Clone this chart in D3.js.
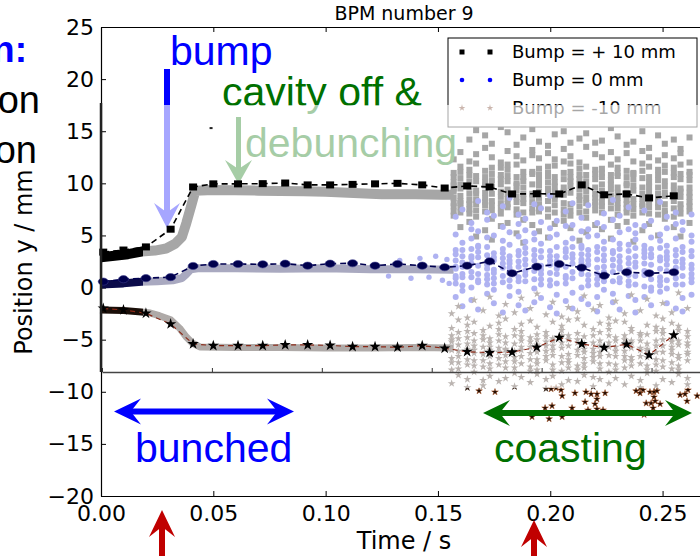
<!DOCTYPE html>
<html>
<head>
<meta charset="utf-8">
<script src="https://cdn.jsdelivr.net/npm/d3@7"></script>
<style>
  body { margin: 0; background: #fff; }
  svg { display: block; }
</style>
</head>
<body>
<svg id="chart" width="700" height="556"></svg>
<script>
// ---------- data ----------
const xTicks = [0, 0.05, 0.10, 0.15, 0.20, 0.25];
const yTicks = [-20, -15, -10, -5, 0, 5, 10, 15, 20, 25];
const seriesLabels = ["Bump = + 10 mm", "Bump = 0 mm", "Bump = -10 mm"];

// bin-averaged orbit (markers joined by dashed lines)
const avgTimes = [0.001, 0.010, 0.020, 0.031, 0.041, 0.050, 0.061, 0.072, 0.082, 0.092, 0.102, 0.112, 0.122,
                  0.132, 0.143, 0.153, 0.163, 0.173, 0.183, 0.194, 0.204, 0.214, 0.224, 0.234, 0.244, 0.255];
const avgPlus10 = [3.4, 3.6, 3.9, 5.6, 9.65, 9.95, 9.95, 9.97, 10.03, 9.85, 9.85, 9.9, 9.95,
                   10.0, 9.85, 9.55, 9.75, 9.65, 8.98, 9.0, 8.98, 9.85, 8.9, 8.98, 8.6, 8.8];
const avgZero = [0.57, 0.80, 0.90, 1.00, 2.07, 2.26, 2.26, 2.23, 2.29, 2.10, 2.29, 2.33, 2.10,
                 2.26, 2.10, 1.95, 2.10, 2.52, 1.37, 2.00, 2.26, 1.91, 1.14, 1.47, 1.37, 1.47];
const avgMinus10 = [-2.0, -2.15, -2.47, -3.5, -5.41, -5.57, -5.57, -5.57, -5.5, -5.5, -5.55, -5.67, -5.67,
                    -5.73, -5.57, -5.83, -6.15, -6.25, -6.2, -5.73, -4.8, -5.41, -5.76, -5.44, -6.47, -4.55];

// turn-by-turn position while the beam is bunched: [time, position]
const bandPlus10 = [[0, 2.9], [0.006, 3.05], [0.012, 3.2], [0.018, 3.45], [0.024, 3.55], [0.029, 3.75],
                    [0.033, 4.2], [0.036, 4.85], [0.038, 6.2], [0.0405, 8.1], [0.042, 9.3], [0.05, 9.35],
                    [0.07, 9.3], [0.09, 9.25], [0.10, 9.2], [0.115, 9.05], [0.125, 8.95], [0.14, 8.95],
                    [0.152, 8.9], [0.157, 8.9]];
const bandZero = [[0, 0.3], [0.01, 0.4], [0.018, 0.55], [0.025, 0.6], [0.032, 0.7], [0.036, 0.9],
                  [0.038, 1.3], [0.040, 1.75], [0.043, 1.85], [0.06, 1.85], [0.08, 1.8], [0.10, 1.85],
                  [0.12, 1.75], [0.14, 1.75], [0.157, 1.7]];
const bandMinus10 = [[0, -2.15], [0.01, -2.2], [0.018, -2.35], [0.022, -2.45], [0.026, -2.7], [0.031, -3.1],
                     [0.035, -3.9], [0.038, -4.75], [0.0405, -5.3], [0.044, -5.7], [0.06, -5.75], [0.08, -5.75],
                     [0.10, -5.8], [0.12, -5.8], [0.14, -5.75], [0.157, -5.8]];
const zeroLateScatter = [[0.128, 1.1], [0.133, 2.6], [0.138, 0.9], [0.142, 2.8], [0.146, 1.0], [0.149, 3.0],
                         [0.152, 0.7], [0.154, 2.7], [0.155, 0.4]];

// coasting beam: readings per acquisition time
const noiseTimes = [0.157, 0.160, 0.164, 0.167, 0.171, 0.174, 0.178, 0.181, 0.185, 0.188, 0.192, 0.195,
                    0.199, 0.202, 0.206, 0.209, 0.213, 0.216, 0.220, 0.223, 0.227, 0.230, 0.234, 0.237,
                    0.241, 0.244, 0.248, 0.251, 0.255, 0.258, 0.262];
const noisePlus10 = [
  [9.2, 8.6, 10.1, 7.8, 11.0, 6.9, 9.8, 12.3, 8.1, 10.6, 9.5, 7.3],
  [8.8, 10.5, 13.0, 7.2, 9.5, 5.8, 11.6, 8.1, 9.9, 8.3, 11.1, 7.7],
  [9.6, 14.2, 7.5, 10.8, 6.3, 12.1, 8.4, 9.0, 8.0, 11.3, 10.2, 7.1],
  [10.2, 8.0, 11.9, 15.1, 6.8, 9.3, 4.9, 12.8, 9.0, 10.7, 7.4, 8.4],
  [9.1, 13.4, 7.9, 10.6, 5.5, 11.2, 8.6, 14.6, 9.8, 7.3, 10.1, 8.2],
  [8.3, 10.9, 6.6, 12.5, 9.7, 4.6, 13.8, 7.4, 9.0, 11.5, 7.9, 10.3],
  [9.9, 7.1, 12.0, 15.4, 8.7, 10.4, 5.9, 11.5, 9.2, 7.6, 10.8, 8.1],
  [8.5, 11.3, 6.2, 13.1, 9.4, 7.7, 14.9, 10.2, 10.7, 8.0, 9.0, 11.8],
  [9.3, 12.6, 7.0, 10.0, 5.2, 11.8, 8.2, 13.7, 8.7, 10.6, 7.5, 9.8],
  [10.6, 8.1, 14.4, 6.5, 9.0, 12.2, 4.3, 11.1, 9.6, 7.2, 10.2, 8.5],
  [9.0, 13.2, 7.6, 10.9, 6.0, 12.7, 8.8, 15.2, 9.9, 8.2, 11.1, 7.2],
  [8.6, 11.4, 5.4, 9.8, 14.0, 7.3, 12.4, 10.3, 9.2, 7.8, 10.8, 8.0],
  [9.5, 6.8, 12.9, 8.3, 10.7, 4.8, 13.6, 11.0, 10.1, 7.5, 9.0, 11.6],
  [10.1, 7.9, 14.7, 9.2, 6.1, 11.7, 8.5, 12.3, 8.8, 10.6, 7.2, 9.7],
  [8.9, 12.1, 6.4, 10.4, 15.0, 7.5, 9.6, 13.3, 8.1, 11.0, 9.2, 7.0],
  [9.7, 5.7, 11.9, 8.0, 13.9, 10.6, 6.9, 12.6, 9.1, 7.4, 10.2, 11.1],
  [8.4, 10.8, 14.3, 7.2, 9.4, 4.5, 12.0, 11.4, 9.9, 7.8, 10.4, 8.8],
  [9.2, 13.5, 6.7, 10.2, 8.1, 11.6, 5.3, 14.8, 8.6, 9.7, 7.3, 10.8],
  [10.4, 7.4, 12.8, 9.0, 6.0, 11.3, 13.9, 8.6, 9.6, 7.9, 10.9, 8.2],
  [8.7, 11.0, 5.6, 14.1, 9.9, 7.8, 12.5, 10.6, 9.3, 7.2, 11.4, 8.2],
  [9.4, 6.5, 13.0, 8.2, 11.8, 4.7, 10.3, 15.3, 8.8, 10.8, 7.6, 9.9],
  [8.1, 12.3, 7.0, 10.7, 14.5, 9.1, 5.9, 11.5, 9.6, 7.6, 11.0, 8.6],
  [9.8, 7.6, 11.2, 13.7, 6.3, 10.0, 8.4, 12.9, 9.1, 10.6, 7.2, 8.0],
  [8.5, 10.9, 14.0, 6.9, 9.3, 12.1, 4.4, 11.0, 8.0, 9.8, 7.5, 10.4],
  [9.0, 13.1, 7.2, 10.5, 5.5, 11.9, 8.0, 15.0, 9.6, 7.8, 11.2, 8.5],
  [8.2, 11.6, 6.1, 9.7, 13.4, 7.7, 12.5, 10.1, 9.2, 7.1, 10.6, 8.7],
  [9.6, 7.0, 12.2, 14.6, 8.6, 10.8, 5.0, 11.3, 9.0, 7.7, 10.3, 8.1],
  [8.8, 12.7, 6.6, 10.2, 9.1, 13.8, 7.4, 11.7, 8.0, 9.7, 11.1, 7.1],
  [9.3, 5.8, 11.0, 8.3, 14.2, 10.6, 6.8, 12.4, 9.8, 7.6, 11.5, 8.9],
  [8.0, 10.4, 13.3, 7.1, 9.5, 11.8, 4.9, 12.9, 8.7, 10.9, 7.6, 9.2],
  [9.1, 7.8, 12.0, 10.3, 14.4, 6.2, 11.1, 8.7, 9.6, 8.2, 10.8, 7.3]
];
const noiseZero = [
  [1.8, 3.2, 0.4, 5.1, -0.9, 2.6, 6.8, 1.1, 2.0, 0.9, 3.6],
  [2.4, -0.3, 4.3, 1.0, 7.5, 3.6, -1.8, 2.0, 1.3, 3.0, 0.2],
  [1.5, 5.6, 0.0, 3.0, -1.2, 6.2, 2.8, 4.7, 2.3, 1.0, 3.7],
  [2.9, -2.1, 4.0, 1.3, 8.3, 0.7, 5.4, 3.4, 0.5, 2.1, 3.9],
  [1.2, 3.9, -0.6, 6.5, 2.2, 4.8, 0.3, 7.2, 1.8, 3.1, 0.8],
  [2.6, 0.9, 5.0, -1.5, 3.3, 1.7, 6.9, -0.2, 2.9, 0.4, 1.4],
  [1.9, 4.5, -2.4, 2.8, 7.8, 0.5, 3.7, 5.8, 1.1, 2.3, 3.3],
  [2.3, -0.8, 5.3, 1.4, 3.0, 8.6, 0.1, 4.1, 0.7, 2.6, 1.9],
  [1.0, 3.5, 6.1, -1.7, 2.5, 4.9, -0.4, 7.0, 2.0, 0.6, 3.1],
  [2.7, 0.6, 4.4, -2.2, 6.6, 1.6, 3.8, 5.5, 1.2, 3.3, 2.2],
  [1.6, 5.2, -0.1, 3.1, 8.0, 2.0, -1.4, 4.6, 0.8, 2.6, 3.6],
  [2.1, -1.0, 4.2, 0.8, 6.3, 3.5, 7.6, 1.3, 1.7, 2.9, 0.3],
  [1.4, 3.0, 5.7, -1.9, 2.6, 0.2, 4.8, 8.8, 2.2, 0.7, 3.5],
  [2.5, 0.4, 6.4, -0.7, 3.9, 1.8, 5.1, -2.5, 1.3, 3.0, 2.1],
  [1.1, 4.3, -1.3, 2.9, 7.3, 0.9, 3.4, 5.9, 2.0, 0.4, 3.7],
  [2.8, -0.5, 4.7, 1.5, 6.0, 3.2, -2.0, 8.1, 0.9, 2.3, 3.9],
  [1.7, 3.8, 0.0, 5.4, -1.1, 2.4, 6.7, 4.0, 1.3, 3.2, 2.7],
  [2.2, 0.7, 4.9, -1.6, 3.6, 7.9, 1.2, 5.6, 2.6, 0.2, 3.1],
  [1.3, 5.0, -0.9, 2.7, 6.2, 0.3, 3.9, -2.3, 1.9, 3.4, 0.8],
  [2.6, -0.2, 4.4, 1.0, 7.1, 3.1, 5.8, 0.6, 2.0, 1.5, 3.7],
  [1.5, 3.3, 6.5, -1.4, 2.1, 4.6, -0.6, 8.4, 0.6, 2.7, 3.5],
  [2.0, 0.5, 5.3, -2.1, 3.7, 1.8, 6.9, 4.2, 2.5, 0.9, 3.0],
  [1.2, 4.1, -0.8, 2.8, 7.7, 0.2, 3.5, 5.6, 1.7, 2.3, 0.6],
  [2.4, -1.2, 4.6, 1.1, 6.0, 3.0, -2.4, 5.2, 2.0, 3.8, 0.3],
  [1.6, 3.6, 0.1, 5.9, -0.9, 2.3, 7.4, 4.0, 1.2, 2.9, 3.3],
  [2.9, 0.8, 4.8, -1.7, 3.2, 6.4, 1.4, -0.3, 2.2, 0.0, 3.7],
  [1.0, 5.1, -0.4, 2.6, 8.2, 3.8, 0.6, 4.5, 1.8, 2.9, 0.2],
  [2.2, -1.5, 4.0, 1.6, 6.8, 3.4, -0.1, 5.7, 0.7, 2.7, 3.0],
  [1.4, 3.1, 6.1, -2.0, 2.5, 0.9, 4.7, 7.2, 1.9, 0.3, 3.6],
  [2.7, 0.3, 5.5, -1.0, 3.9, 1.9, 6.3, -2.3, 1.1, 2.3, 3.4],
  [1.8, 4.4, -0.7, 3.0, 7.0, 0.5, 5.0, 2.2, 1.3, 3.5, 0.9]
];
const noiseMinus10 = [
  [-5.2, -3.9, -6.8, -2.5, -7.9, -4.6, -9.2, -6.0, -5.0, -7.2],
  [-6.1, -4.3, -8.4, -1.8, -5.5, -7.2, -3.1, -4.9, -6.6, -7.8],
  [-4.8, -6.9, -2.9, -8.8, -5.9, -9.6, -3.6, -5.4, -7.4, -4.2],
  [-5.6, -7.5, -3.3, -6.3, -1.2, -8.1, -4.4, -5.1, -7.0, -6.0],
  [-6.4, -4.1, -8.9, -2.2, -5.0, -7.0, -9.4, -5.7, -7.6, -4.6],
  [-5.3, -7.8, -3.7, -6.6, -0.9, -4.9, -8.5, -6.0, -5.7, -7.3],
  [-4.5, -6.2, -9.0, -2.7, -5.8, -7.4, -3.4, -5.1, -6.8, -4.0],
  [-5.9, -3.0, -7.7, -4.7, -8.7, -1.6, -6.5, -5.3, -7.1, -6.0],
  [-6.7, -4.0, -8.2, -2.4, -5.4, -9.5, -7.1, -6.1, -4.6, -7.7],
  [-5.1, -7.3, -3.5, -6.0, -1.0, -8.6, -4.2, -5.7, -6.6, -4.7],
  [-6.3, -4.8, -9.1, -2.0, -5.7, -7.6, -3.2, -5.2, -6.9, -8.0],
  [-5.5, -7.9, -3.8, -6.9, -0.6, -4.5, -8.3, -6.2, -5.0, -7.3],
  [-4.3, -6.1, -8.8, -2.6, -5.2, -7.0, -9.7, -5.6, -6.6, -4.7],
  [-6.0, -3.3, -7.4, -4.9, -8.5, -1.4, -5.6, -6.5, -5.1, -7.9],
  [-5.8, -4.1, -8.0, -2.8, -6.6, -9.3, -3.7, -5.3, -7.2, -4.6],
  [-5.0, -7.2, -3.1, -6.4, -1.9, -8.9, -4.6, -5.6, -6.9, -7.7],
  [-6.5, -4.4, -9.0, -2.3, -5.3, -7.5, -3.0, -6.0, -5.0, -7.9],
  [-5.4, -7.7, -3.6, -6.8, -0.8, -4.7, -8.4, -5.9, -6.2, -7.3],
  [-4.6, -6.3, -8.6, -2.1, -5.9, -7.1, -9.5, -5.3, -6.7, -4.0],
  [-6.2, -3.4, -7.8, -4.3, -8.8, -1.7, -5.1, -6.6, -5.6, -7.3],
  [-5.7, -4.0, -8.1, -2.9, -6.5, -9.2, -3.5, -5.3, -7.3, -4.6],
  [-5.1, -7.4, -3.2, -6.1, -1.3, -8.7, -4.8, -5.7, -6.6, -7.9],
  [-6.6, -4.6, -9.3, -2.5, -5.5, -7.7, -3.3, -6.1, -5.0, -7.0],
  [-5.3, -7.0, -3.9, -6.7, -0.7, -4.2, -8.5, -5.8, -7.5, -5.1],
  [-4.4, -6.0, -8.9, -2.2, -5.8, -7.3, -9.6, -5.1, -6.6, -4.6],
  [-6.1, -3.6, -7.5, -4.5, -8.2, -1.1, -5.4, -6.7, -5.9, -7.9],
  [-5.6, -4.2, -8.0, -2.7, -6.9, -9.4, -3.8, -5.1, -6.2, -7.4],
  [-5.0, -7.6, -3.0, -6.2, -1.5, -8.8, -4.4, -5.6, -7.0, -4.0],
  [-6.4, -4.9, -9.1, -2.4, -5.2, -7.2, -3.4, -6.0, -5.7, -7.8],
  [-5.5, -7.9, -3.7, -6.5, -0.5, -4.1, -8.3, -5.1, -6.8, -7.5],
  [-4.7, -6.4, -8.7, -2.0, -5.6, -7.0, -9.3, -5.3, -6.2, -4.2]
];
// far outliers of the -10 mm bump: [time, position]
const farMinus10 = [[0.1683, -9.92], [0.1754, -10.02], [0.1919, -12.4], [0.1977, -11.56], [0.1995, -12.6],
                    [0.2004, -9.73], [0.2008, -11.36], [0.2026, -9.63], [0.2048, -9.83], [0.2053, -10.4],
                    [0.2053, -12.4], [0.2097, -11.56], [0.2110, -10.13], [0.2155, -10.98], [0.2159, -10.02],
                    [0.2168, -11.75], [0.2182, -10.22], [0.2199, -11.17], [0.2208, -10.22], [0.2208, -10.7],
                    [0.2208, -11.65], [0.2235, -11.75], [0.2244, -10.13], [0.2382, -9.92], [0.2400, -10.13],
                    [0.2413, -9.83], [0.2418, -12.2], [0.2427, -11.1], [0.2444, -10.02], [0.2449, -11.1],
                    [0.2458, -11.56], [0.2462, -10.02], [0.2462, -10.5], [0.2467, -10.9], [0.2475, -9.92],
                    [0.2489, -11.17], [0.2578, -10.3], [0.2600, -10.22], [0.2609, -10.9], [0.2613, -9.83],
                    [0.2654, -10.4]];
const strayPlus10 = [[0.049, 15.3]];

// ---------- scales ----------
const svg = d3.select("#chart");
const x = d3.scaleLinear().domain([0, 0.268]).range([101, 703]);
const y = d3.scaleLinear().domain([-20, 25]).range([496, 27]);
const xInset = d3.scaleLinear().domain([0, 0.2725]).range([102, 701]);

const FONT = "'DejaVu Sans', 'Bitstream Vera Sans', sans-serif";
const ANN = "'Liberation Sans', Arial, Helvetica, sans-serif";
const BLUE = "#0000ff", GREEN = "#007000", RED = "#c00000";

// ---------- axes ----------
function styleAxis(g) {
  g.attr("font-family", FONT).attr("font-size", 22);
  g.selectAll("path.domain").attr("stroke", "#000").attr("stroke-width", 1.2);
  g.selectAll(".tick line").attr("stroke", "#000").attr("stroke-width", 1);
  g.selectAll(".tick text").attr("fill", "#000");
}
svg.append("g").attr("transform", "translate(101,0)")
  .call(d3.axisLeft(y).tickValues(yTicks).tickSizeInner(-5).tickSizeOuter(0).tickPadding(7))
  .call(styleAxis);
svg.append("g").attr("transform", "translate(0,496)")
  .call(d3.axisBottom(x).tickValues(xTicks).tickFormat(d3.format(".2f"))
    .tickSizeInner(-5).tickSizeOuter(0).tickPadding(9))
  .call(styleAxis);
svg.append("g").attr("transform", "translate(0,27)")
  .call(d3.axisTop(x).tickValues(xTicks).tickFormat(() => "").tickSizeInner(-5).tickSizeOuter(0))
  .call(styleAxis);

svg.append("text").attr("x", 404).attr("y", 20).attr("text-anchor", "middle")
  .attr("font-family", FONT).attr("font-size", 19).text("BPM number 9");
svg.append("text").attr("transform", "translate(32,262) rotate(-90)").attr("text-anchor", "middle")
  .attr("font-family", FONT).attr("font-size", 24).text("Position y / mm");
svg.append("text").attr("x", 404).attr("y", 549).attr("text-anchor", "middle")
  .attr("font-family", FONT).attr("font-size", 24).text("Time / s");

// ---------- raw position data ----------
const gRaw = svg.append("g");
const lineGen = d3.line().x(d => x(d[0])).y(d => y(d[1]));
[[bandPlus10, "#000", 10], [bandZero, "#0b0b4a", 8], [bandMinus10, "#1a0e08", 7]].forEach(([b, c, w]) => {
  gRaw.append("path").datum(b).attr("d", lineGen).attr("fill", "none")
    .attr("stroke", c).attr("stroke-width", w).attr("stroke-linejoin", "round").attr("stroke-linecap", "butt");
});
gRaw.selectAll("circle.late").data(zeroLateScatter).join("circle")
  .attr("cx", d => x(d[0])).attr("cy", d => y(d[1])).attr("r", 2.7).attr("fill", "#1a24d8");

function flatten(times, cols) {
  const out = [];
  times.forEach((t, i) => cols[i].forEach(v => out.push([t, v])));
  return out;
}
gRaw.selectAll("rect.np").data(flatten(noiseTimes, noisePlus10)).join("rect")
  .attr("x", d => x(d[0]) - 3).attr("y", d => y(d[1]) - 3).attr("width", 6).attr("height", 6)
  .attr("fill", "#000");
gRaw.selectAll("circle.nz").data(flatten(noiseTimes, noiseZero)).join("circle")
  .attr("cx", d => x(d[0]) + 2).attr("cy", d => y(d[1])).attr("r", 3).attr("fill", "#1a24d8");
const starSmall = d3.symbol().type(d3.symbolStar).size(20);
gRaw.selectAll("path.nm").data(flatten(noiseTimes, noiseMinus10)).join("path")
  .attr("transform", d => `translate(${x(d[0]) - 2},${y(d[1])})`).attr("d", starSmall)
  .attr("fill", "#3c2a20");
gRaw.selectAll("path.far").data(farMinus10).join("path")
  .attr("transform", d => `translate(${x(d[0])},${y(d[1])})`)
  .attr("d", d3.symbol().type(d3.symbolStar).size(14))
  .attr("fill", "#1e0c04").attr("stroke", "#a04818").attr("stroke-width", 0.5);

// ---------- legend ----------
const gLeg = svg.append("g");
gLeg.append("rect").attr("x", 448).attr("y", 38).attr("width", 249).attr("height", 89)
  .attr("fill", "#fff").attr("stroke", "#000").attr("stroke-width", 1);
const legRows = [52, 80, 108];
seriesLabels.forEach((lab, i) => {
  const ry = legRows[i];
  [462, 490].forEach(mx => {
    if (i === 0) gLeg.append("rect").attr("x", mx - 2.5).attr("y", ry - 2.5).attr("width", 5).attr("height", 5).attr("fill", "#000");
    if (i === 1) gLeg.append("circle").attr("cx", mx).attr("cy", ry).attr("r", 2.3).attr("fill", BLUE);
    if (i === 2) gLeg.append("path").attr("transform", `translate(${mx},${ry})`)
      .attr("d", d3.symbol().type(d3.symbolStar).size(14)).attr("fill", "#6a3018");
  });
  gLeg.append("text").attr("x", 512).attr("y", ry).attr("dy", "0.36em")
    .attr("font-family", FONT).attr("font-size", 18).text(lab);
});

// ---------- annotations beneath the highlight veil ----------
const gAnn = svg.append("g");
function vArrowDown(g, cx, y0, tip, headLen, halfW, shaftW, color) {
  const base = tip - headLen, notch = tip - headLen * 0.62;
  g.append("rect").attr("x", cx - shaftW / 2).attr("y", y0).attr("width", shaftW).attr("height", notch - y0 + 1).attr("fill", color);
  g.append("path").attr("d", `M${cx},${tip} L${cx - halfW},${base} L${cx},${notch} L${cx + halfW},${base} Z`).attr("fill", color);
}
function vArrowUp(g, cx, y0, tip, headLen, halfW, shaftW, color) {
  const base = tip + headLen, notch = tip + headLen * 0.62;
  g.append("rect").attr("x", cx - shaftW / 2).attr("y", notch - 1).attr("width", shaftW).attr("height", y0 - notch + 1).attr("fill", color);
  g.append("path").attr("d", `M${cx},${tip} L${cx - halfW},${base} L${cx},${notch} L${cx + halfW},${base} Z`).attr("fill", color);
}
function hDoubleArrow(g, x1, x2, cy, headLen, halfW, shaftW, color) {
  const n1 = x1 + headLen * 0.62, n2 = x2 - headLen * 0.62;
  g.append("rect").attr("x", n1 - 1).attr("y", cy - shaftW / 2).attr("width", n2 - n1 + 2).attr("height", shaftW).attr("fill", color);
  g.append("path").attr("d", `M${x1},${cy} L${x1 + headLen},${cy - halfW} L${n1},${cy} L${x1 + headLen},${cy + halfW} Z`).attr("fill", color);
  g.append("path").attr("d", `M${x2},${cy} L${x2 - headLen},${cy - halfW} L${n2},${cy} L${x2 - headLen},${cy + halfW} Z`).attr("fill", color);
}
vArrowDown(gAnn, 167, 69, 228, 25, 13, 6, BLUE);
vArrowDown(gAnn, 238.5, 117, 184, 24, 13.5, 5, GREEN);
gAnn.append("text").attr("x", 170).attr("y", 65).attr("font-family", ANN).attr("font-size", 41)
  .attr("fill", BLUE).text("bump");
gAnn.append("text").attr("x", 222).attr("y", 106).attr("font-family", ANN).attr("font-size", 41)
  .attr("fill", GREEN).text("cavity off &");
gAnn.append("text").attr("x", 245).attr("y", 157).attr("font-family", ANN).attr("font-size", 41)
  .attr("fill", GREEN).text("debunching");

// semi-transparent veil over the highlighted region
svg.append("rect").attr("x", 143).attr("y", 105).attr("width", 556).attr("height", 283)
  .attr("fill", "#fff").attr("opacity", 0.65);

// ---------- bin averages ----------
const gAvg = svg.append("g");
function avgLine(vals, color, w, dash) {
  gAvg.append("path").datum(avgTimes.map((t, i) => [t, vals[i]])).attr("d", lineGen)
    .attr("fill", "none").attr("stroke", color).attr("stroke-width", w).attr("stroke-dasharray", dash);
}
avgLine(avgPlus10, "#000", 1.6, "6,4");
avgLine(avgZero, "#000050", 1.6, "6,4");
avgLine(avgMinus10, "#8b2a18", 1.2, "5,4");
gAvg.selectAll("rect.ap").data(avgPlus10).join("rect")
  .attr("x", (d, i) => x(avgTimes[i]) - 4).attr("y", d => y(d) - 3.5).attr("width", 8).attr("height", 7).attr("fill", "#000");
gAvg.selectAll("ellipse.az").data(avgZero).join("ellipse")
  .attr("cx", (d, i) => x(avgTimes[i])).attr("cy", d => y(d)).attr("rx", 5).attr("ry", 3.6)
  .attr("fill", "#00004d").attr("stroke", "#3a3a8a").attr("stroke-width", 0.6);
gAvg.selectAll("path.am").data(avgMinus10).join("path")
  .attr("transform", (d, i) => `translate(${x(avgTimes[i])},${y(d)})`)
  .attr("d", d3.symbol().type(d3.symbolStar).size(40)).attr("fill", "#000");
gAvg.selectAll("rect.stray").data(strayPlus10).join("rect")
  .attr("x", d => x(d[0]) - 1.5).attr("y", d => y(d[1]) - 1).attr("width", 3).attr("height", 2).attr("fill", "#222");

// lower edge of the upper panel, with its own tick row
svg.append("g").attr("transform", "translate(0,372)")
  .call(d3.axisBottom(xInset).tickValues(xTicks).tickFormat(() => "").tickSizeInner(-4).tickSizeOuter(0))
  .call(g => {
    g.selectAll("path.domain").attr("stroke", "#444").attr("stroke-width", 1.5);
    g.selectAll(".tick line").attr("stroke", "#333");
  });
svg.append("line").attr("x1", 101).attr("x2", 101).attr("y1", 103).attr("y2", 372)
  .attr("stroke", "#222").attr("stroke-width", 2.5);

// ---------- beam-state annotations ----------
const gLow = svg.append("g");
hDoubleArrow(gLow, 114, 294, 411.5, 27, 13, 6, BLUE);
hDoubleArrow(gLow, 483, 692, 413, 27, 13, 6, GREEN);
gLow.append("text").attr("x", 135).attr("y", 462).attr("font-family", ANN).attr("font-size", 41)
  .attr("fill", BLUE).text("bunched");
gLow.append("text").attr("x", 494).attr("y", 462).attr("font-family", ANN).attr("font-size", 41)
  .attr("fill", GREEN).text("coasting");
vArrowUp(gLow, 162, 560, 510, 27, 13, 6, RED);
vArrowUp(gLow, 534, 560, 520, 27, 13, 6, RED);

// slide text to the left of the plot
gLow.append("text").attr("x", 27).attr("y", 62).attr("text-anchor", "end").attr("font-family", ANN)
  .attr("font-size", 37).attr("font-weight", "bold").attr("fill", BLUE).text("n:");
gLow.append("text").attr("x", 40).attr("y", 113).attr("text-anchor", "end").attr("font-family", ANN)
  .attr("font-size", 38).attr("fill", "#000").text("on");
gLow.append("text").attr("x", 37).attr("y", 163).attr("text-anchor", "end").attr("font-family", ANN)
  .attr("font-size", 38).attr("fill", "#000").text("on");
</script>
</body>
</html>
